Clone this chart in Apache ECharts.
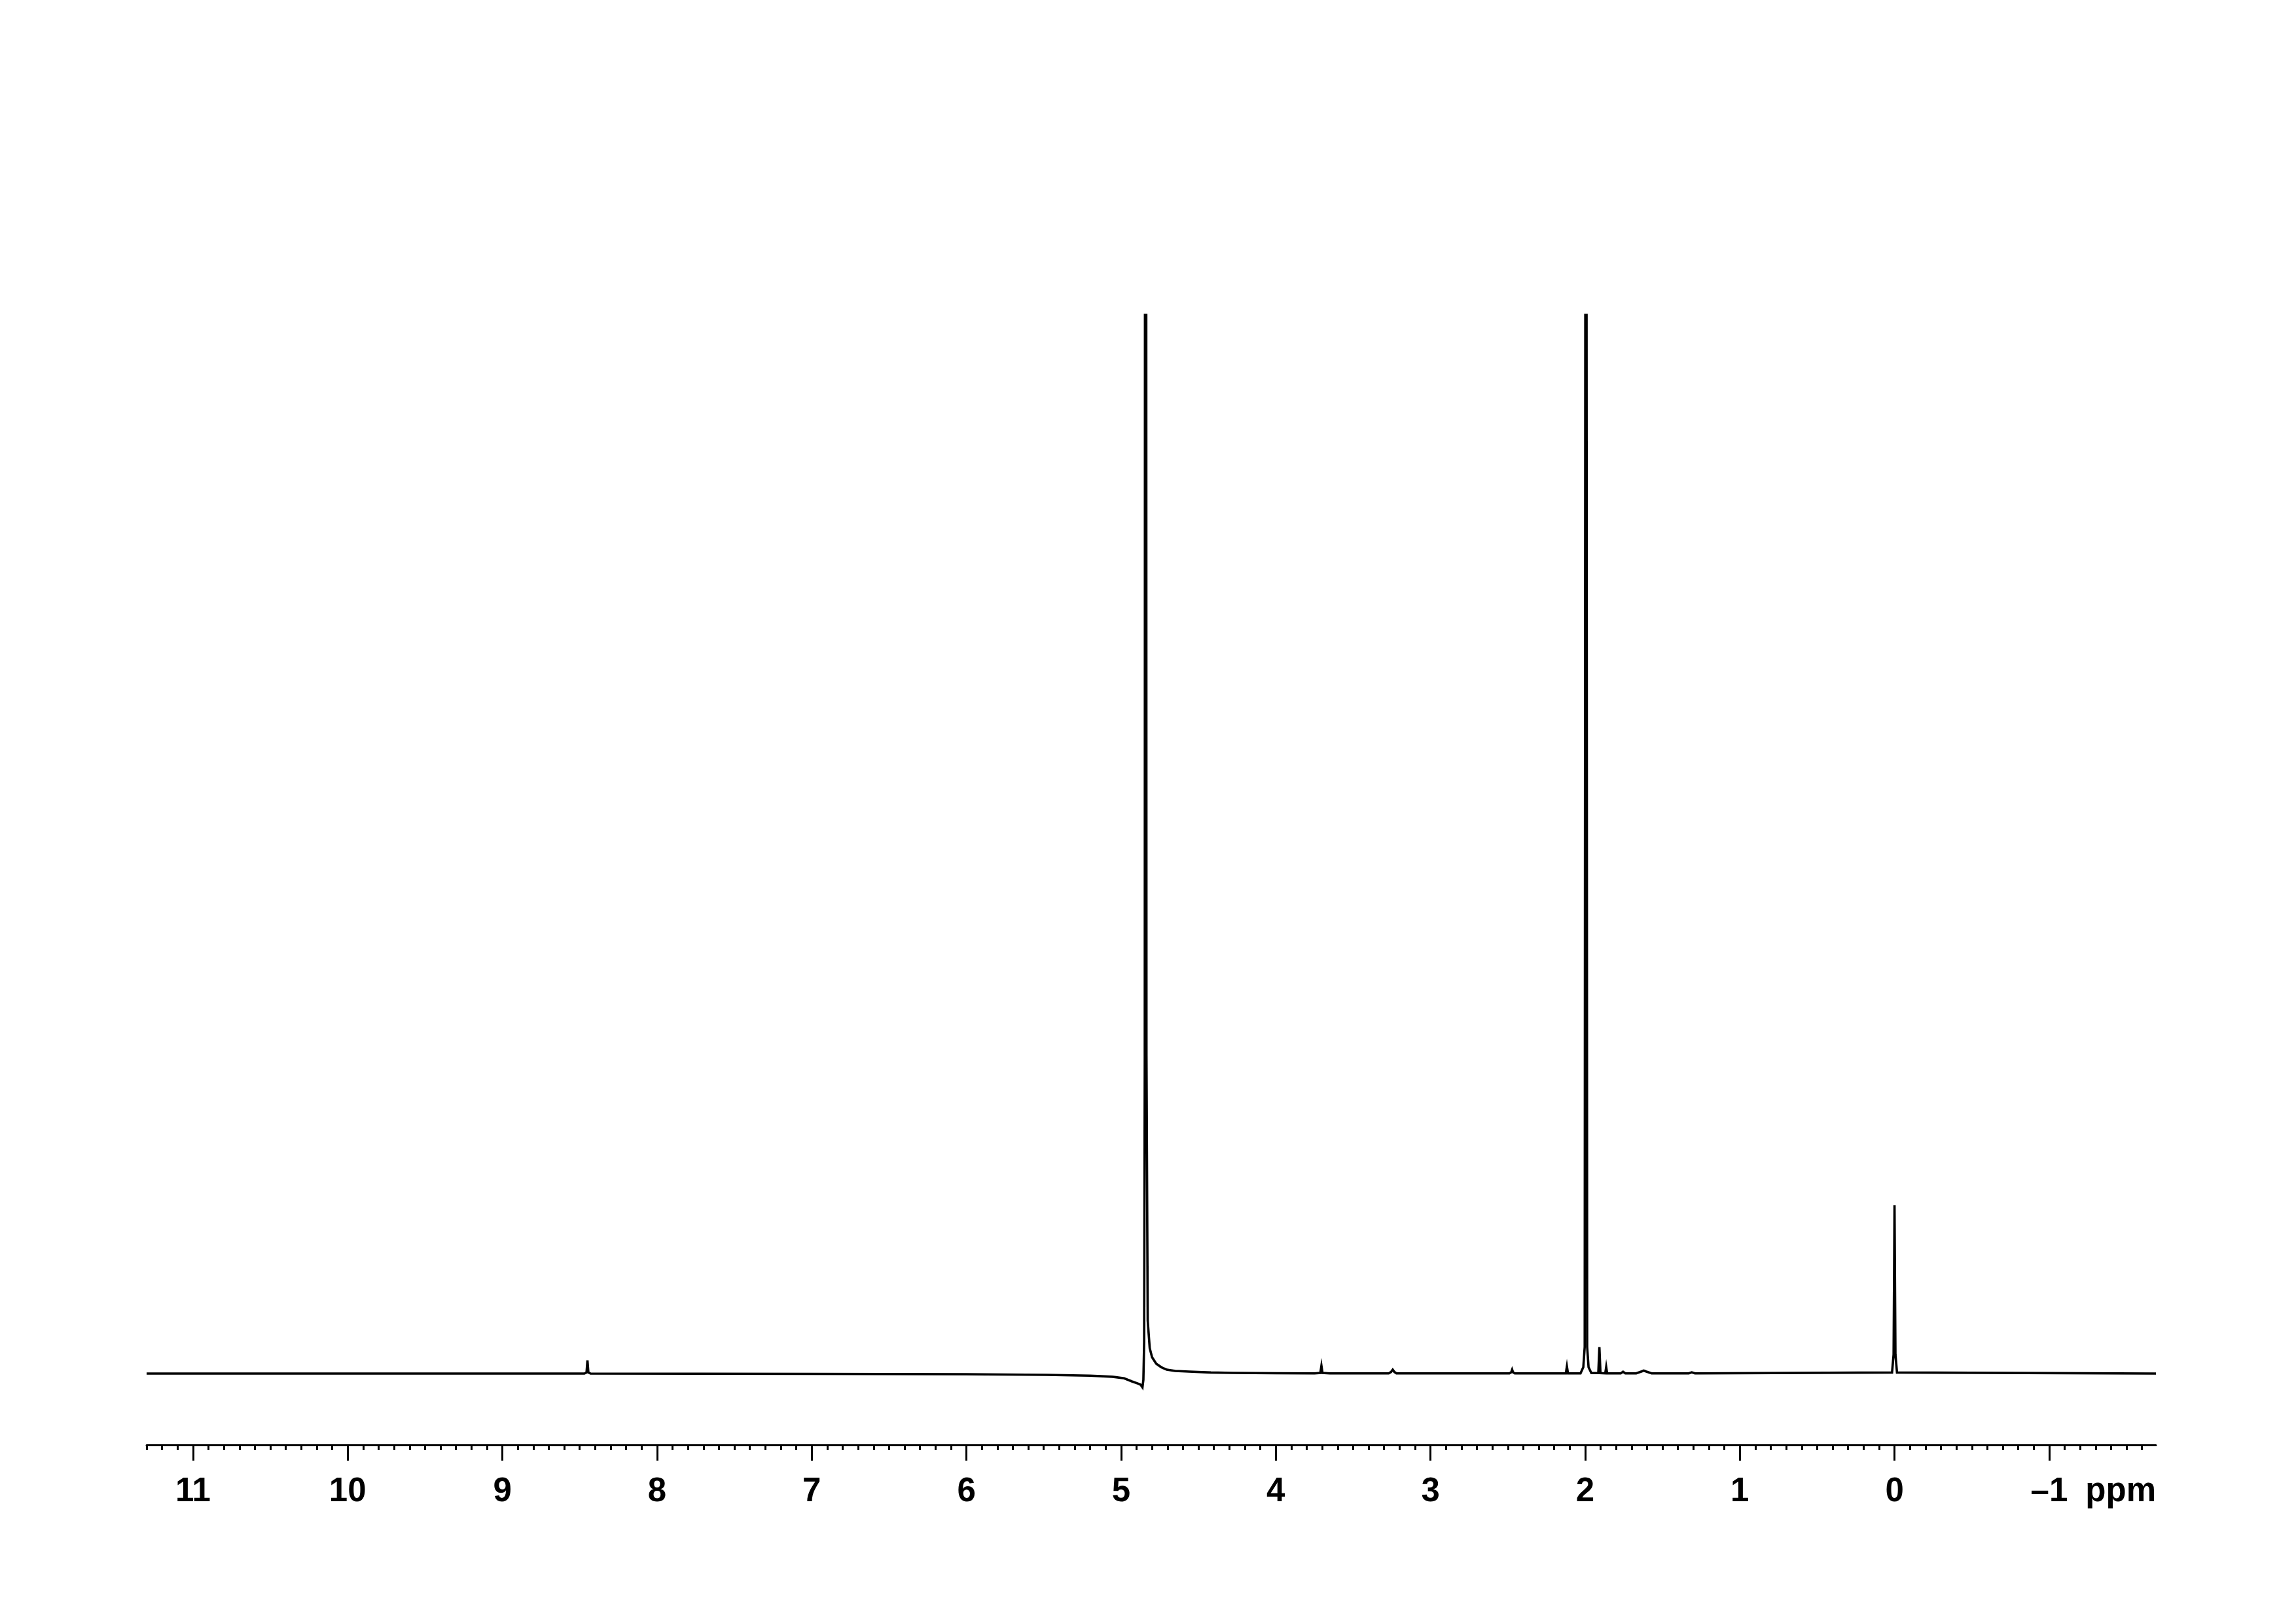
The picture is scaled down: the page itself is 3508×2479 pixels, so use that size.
<!DOCTYPE html>
<html>
<head>
<meta charset="utf-8">
<script src="https://cdn.jsdelivr.net/npm/echarts@6/dist/echarts.min.js"></script>
<style>
html,body{margin:0;padding:0;background:#fff;}
#chart{width:3508px;height:2479px;}
</style>
</head>
<body>
<div id="chart"></div>
<script>
// Chemical shift (ppm) points, left to right
const shiftsPpm = [
  11.30, 9.00, 8.47, 8.456, 8.450, 8.444, 8.43, 7.0, 6.0, 5.48, 5.2, 5.056, 4.98, 4.93, 4.89, 4.874, 4.862, 4.856,
  4.851, 4.847, 4.842, 4.836, 4.828, 4.815, 4.800, 4.773, 4.74, 4.705, 4.65, 4.56, 4.42, 4.28, 4.0,
  3.75, 3.712, 3.705, 3.698, 3.65, 3.27, 3.255, 3.244, 3.233, 3.22,
  2.49, 2.478, 2.472, 2.466, 2.455, 2.125, 2.118, 2.111,
  2.03, 2.012, 2.003, 1.995, 1.987, 1.978, 1.96, 1.915, 1.908, 1.901,
  1.87, 1.864, 1.858, 1.77, 1.755, 1.74, 1.67, 1.635, 1.621, 1.607, 1.57,
  1.33, 1.311, 1.29, 0.016, 0.006, 0.000, -0.006, -0.016, -1.69
];
// Intensities (relative, 100 = top of the plotting window; taller peaks are clipped)
const intensities = [
  0, 0, 0, 0.1, 1.24, 0.1, 0, -0.03, -0.06, -0.12, -0.2, -0.3, -0.45, -0.74, -0.95, -1.05, -1.3, -0.6,
  3, 30, 320, 30, 5, 2.4, 1.55, 0.93, 0.6, 0.37, 0.25, 0.19, 0.1, 0.06, 0.03,
  0.02, 0.06, 0.74, 0.06, 0.02, 0.02, 0.15, 0.37, 0.15, 0.02,
  0.02, 0.12, 0.37, 0.12, 0.02, 0.02, 0.68, 0.02,
  0.02, 0.6, 2.5, 200, 2.5, 0.6, 0.05, 0.05, 2.5, 0.05,
  0.03, 0.62, 0.03, 0.02, 0.17, 0.02, 0.02, 0.2, 0.28, 0.2, 0.02,
  0.02, 0.12, 0.02, 0.1, 1.8, 15.9, 1.8, 0.1, 0
];
// Axis ticks
const majorTicks = [11, 10, 9, 8, 7, 6, 5, 4, 3, 2, 1, 0, -1];
const tickLabels = ['11', '10', '9', '8', '7', '6', '5', '4', '3', '2', '1', '0', '\u20131'];
const axisUnit = 'ppm';
const axisMin = -1.69, axisMax = 11.30;

const minorTicks = [];
for (let k = -16; k <= 113; k++) minorTicks.push(k / 10);

const spectrum = shiftsPpm.map((x, i) => [x, intensities[i]]);
const labelFont = {fontFamily: '"Liberation Sans", Arial, sans-serif', fontWeight: 'bold', fontSize: 51, color: '#000'};
const labelMargin = 46;

const chart = echarts.init(document.getElementById('chart'), null, {renderer: 'canvas'});
chart.setOption({
  backgroundColor: '#ffffff',
  animation: false,
  grid: {left: 224, right: 214, top: 481, bottom: 272, containLabel: false},
  xAxis: [
    {
      type: 'value', inverse: true, min: axisMin, max: axisMax, position: 'bottom',
      splitLine: {show: false},
      axisLine: {show: true, onZero: false, lineStyle: {color: '#000', width: 3}},
      axisTick: {show: true, inside: false, length: 24, lineStyle: {color: '#000', width: 3}, customValues: majorTicks},
      axisLabel: Object.assign({
        show: true, margin: labelMargin, customValues: majorTicks,
        formatter: v => { const i = majorTicks.indexOf(Math.round(v)); return i >= 0 ? tickLabels[i] : ''; }
      }, labelFont)
    },
    {
      type: 'value', inverse: true, min: axisMin, max: axisMax, position: 'bottom', offset: 0,
      splitLine: {show: false},
      axisLine: {show: false, onZero: false},
      axisTick: {show: true, inside: false, length: 8, lineStyle: {color: '#000', width: 3}, customValues: minorTicks},
      axisLabel: {show: false}
    }
  ],
  yAxis: {type: 'value', min: -6.74, max: 100, show: false, splitLine: {show: false}},
  graphic: [{
    type: 'text', right: 214, top: 2207 + labelMargin,
    style: {text: axisUnit, font: 'bold 51px "Liberation Sans", Arial, sans-serif', fill: '#000', verticalAlign: 'top'}
  }],
  series: [{
    type: 'line', xAxisIndex: 0, data: spectrum, showSymbol: false, symbol: 'none',
    clip: true, smooth: false,
    lineStyle: {color: '#000', width: 3.6, join: 'miter'}
  }]
});
</script>
</body>
</html>
